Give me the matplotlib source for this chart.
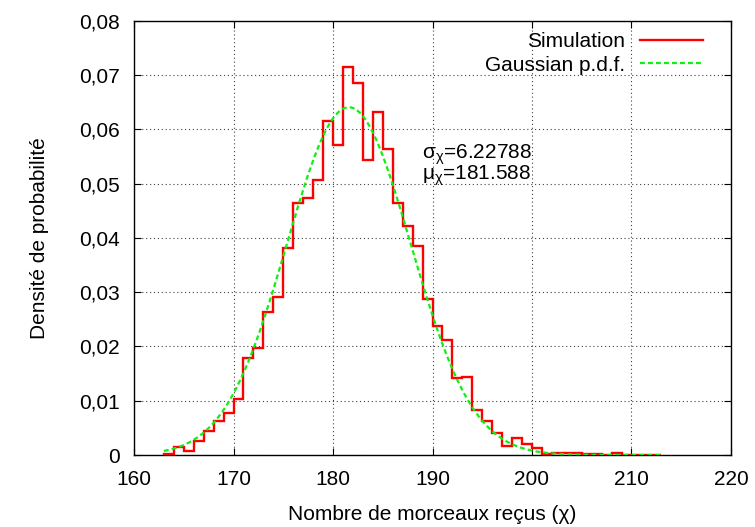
import numpy as np

import matplotlib
matplotlib.use("Agg")
import matplotlib.pyplot as plt
from matplotlib.ticker import FuncFormatter


# NOTE: histogram of the number of received pieces (bin width = 1)
bin_edges = np.arange(163, 214, 1)
density = [
    0.0001, 0.0014, 0.0007, 0.0025, 0.0044, 0.0062, 0.0078, 0.0104, 0.0178, 0.0198,
    0.0264, 0.0291, 0.0382, 0.0465, 0.0474, 0.0507, 0.0615, 0.0571, 0.0714, 0.0685,
    0.0543, 0.0631, 0.0563, 0.0465, 0.0422, 0.0385, 0.0288, 0.0238, 0.0211, 0.0141,
    0.0144, 0.0082, 0.0062, 0.0041, 0.0016, 0.0031, 0.0020, 0.0013, 0.0002, 0.0004,
    0.0003, 0.0003, 0.0001, 0.0001, 0.0000, 0.0004, 0.0000, 0.0000, 0.0000, 0.0000,
]

# NOTE: fitted gaussian parameters (as printed on the chart)
sigma_chi = 6.22788
mu_chi = 181.588

x_ticks = [160, 170, 180, 190, 200, 210, 220]
y_ticks = [0.0, 0.01, 0.02, 0.03, 0.04, 0.05, 0.06, 0.07, 0.08]


def gaussian_pdf(x, mu, sigma):

    return np.exp(-0.5 * ((x - mu) / sigma)**2.0) / (sigma * np.sqrt(2.0 * np.pi))


def comma_formatter(value, pos):

    if abs(value) < 1e-12:
        return "0"
    return "{:.2f}".format(value).replace(".", ",")


plt.rcParams["font.family"] = ["Liberation Sans", "DejaVu Sans"]
plt.rcParams["mathtext.fontset"] = "custom"
plt.rcParams["mathtext.rm"] = "Liberation Sans"
plt.rcParams["mathtext.it"] = "Liberation Sans"

fs = 15

fig = plt.figure(figsize=(7.55, 5.27), dpi=100)
ax = fig.add_axes([0.1775, 0.1366, 0.7907, 0.8241])

ax.stairs(
    density,
    bin_edges,
    color="#ff0000",
    linewidth=1.7,
    label="Simulation",
    zorder=3
)

x_pdf = np.linspace(bin_edges[0], bin_edges[-1], 400)
ax.plot(
    x_pdf,
    gaussian_pdf(x_pdf, mu_chi, sigma_chi),
    linestyle=(0, (2.2, 1.4)),
    color="#11ee11",
    linewidth=1.6,
    label="Gaussian p.d.f.",
    zorder=4
)

# NOTE: both lines in one text block so that they do not collide
ax.text(
    188.9, 0.0576,
    r"$\mathregular{\sigma_\chi}$=6.22788" + "\n" + r"$\mathregular{\mu_\chi}$=181.588",
    fontsize=fs,
    va="top",
    linespacing=0.8
)

ax.set_xlim(160, 220)
ax.set_ylim(0, 0.08)
ax.set_xticks(x_ticks)
ax.set_yticks(y_ticks)
ax.yaxis.set_major_formatter(FuncFormatter(comma_formatter))

ax.tick_params(
    direction="in", top=True, right=True, length=5, width=0.8, labelsize=fs
)
ax.tick_params(axis="x", pad=11)
ax.tick_params(axis="y", pad=10)

ax.grid(True, color="0.25", linestyle=(0, (1, 2.5)), linewidth=0.8)
for spine in ax.spines.values():
    spine.set_linewidth(1.0)

ax.set_xlabel(u"Nombre de morceaux re\u00e7us (\u03c7)", fontsize=fs, labelpad=11)
ax.set_ylabel(u"Densit\u00e9 de probabilit\u00e9", fontsize=fs, labelpad=22)

ax.legend(
    loc="upper right",
    bbox_to_anchor=(0.953, 0.974),
    frameon=False,
    markerfirst=False,
    handlelength=3.0,
    handletextpad=0.72,
    borderaxespad=0.0,
    borderpad=0.0,
    labelspacing=0.22,
    fontsize=fs
)

plt.savefig("out.png", dpi=100)
